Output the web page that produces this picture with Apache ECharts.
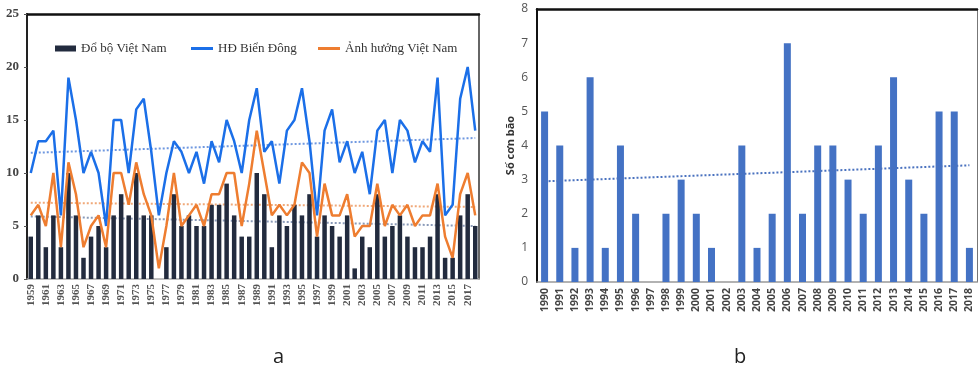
<!DOCTYPE html>
<html><head><meta charset="utf-8">
<script src="https://cdn.jsdelivr.net/npm/echarts@6/dist/echarts.min.js"></script>
<style>html,body{margin:0;padding:0;background:#fff}#c{width:979px;height:371px}</style>
</head><body><div id="c"></div>
<script>
const yearsA = ['1959','1960','1961','1962','1963','1964','1965','1966','1967','1968','1969','1970','1971','1972','1973','1974','1975','1976','1977','1978','1979','1980','1981','1982','1983','1984','1985','1986','1987','1988','1989','1990','1991','1992','1993','1994','1995','1996','1997','1998','1999','2000','2001','2002','2003','2004','2005','2006','2007','2008','2009','2010','2011','2012','2013','2014','2015','2016','2017','2018'];
const landfallVN = [4,6,3,6,3,10,6,2,4,5, 3,6,8,6,10,6,6,0,3,8, 5,6,5,5,7,7,9,6,4,4, 10,8,3,6,5,7,6,8,4,6, 5,4,6,1,4,3,8,4,5,6, 4,3,3,4,8,2,2,6,8,5];
const activeEastSea = [10,13,13,14,6,19,15,10,12,10, 5,15,15,10,16,17,12,6,10,13, 12,10,12,9,13,11,15,13,10,15, 18,12,13,9,14,15,18,13,6,14, 16,11,13,10,12,8,14,15,10,15, 14,11,13,12,19,6,7,17,20,14];
const affectVN = [6,7,5,10,3,11,8,3,5,6, 3,10,10,7,11,8,6,1,5,10, 5,6,7,5,8,8,10,10,5,9, 14,10,6,7,6,7,11,10,4,9, 6,6,8,4,5,5,9,5,7,6, 7,5,6,6,9,4,2,8,10,6];
const trendEastSeaEnds = [11.9, 13.3];
const trendAffectEnds = [7.2, 6.8];
const trendLandfallEnds = [5.9, 5.0];

const yearsB = ['1990','1991','1992','1993','1994','1995','1996','1997','1998','1999','2000','2001','2002','2003','2004','2005','2006','2007','2008','2009','2010','2011','2012','2013','2014','2015','2016','2017','2018'];
const stormsB = [5,4,1,6,1,4,2,0,2,3,2,1,0,4,1,2,7,2,4,4,3,2,4,6,3,2,5,5,1];
const trendBEnds = [2.95, 3.42];

const ticksA = ['0','5','10','15','20','25'];

function ends(n, e){ const a = new Array(n).fill(null); a[0]=e[0]; a[n-1]=e[1]; return a; }

const serif = 'Liberation Serif';
const sans = 'Open Sans';
const chart = echarts.init(document.getElementById('c'));
chart.setOption({
  animation:false,
  title:[
    {text:'a', left:268, top:342, textStyle:{fontFamily:sans, fontSize:20, fontWeight:'normal', color:'#222'}},
    {text:'b', left:729, top:342, textStyle:{fontFamily:sans, fontSize:20, fontWeight:'normal', color:'#222'}}
  ],
  legend:[
    {data:['Đổ bộ Việt Nam'], left:50, top:37, icon:'rect', itemWidth:21, itemHeight:6, itemGap:4,
     textStyle:{fontFamily:serif, fontSize:13, color:'#333'}},
    {data:['HĐ Biển Đông'], left:186, top:37, icon:'rect', itemWidth:22, itemHeight:3,
     textStyle:{fontFamily:serif, fontSize:13, color:'#333'}},
    {data:['Ảnh hưởng Việt Nam'], left:313, top:37, icon:'rect', itemWidth:22, itemHeight:3,
     textStyle:{fontFamily:serif, fontSize:13, color:'#333'}}
  ],
  grid:[
    {left:27, top:14, width:452, height:265},
    {left:537, top:9, width:440, height:273}
  ],
  xAxis:[
    {type:'category', gridIndex:0, data:yearsA, boundaryGap:true,
     axisLine:{onZero:false, lineStyle:{color:'#aaa', width:1.5}}, axisTick:{show:false},
     axisLabel:{interval:1, rotate:90, margin:5, fontFamily:serif, fontSize:11, fontWeight:'bold', color:'#555'}},
    {type:'category', gridIndex:0, data:yearsA, position:'top',
     axisLine:{onZero:false, lineStyle:{color:'#111', width:2.5}}, axisTick:{show:false}, axisLabel:{show:false}},
    {type:'category', gridIndex:1, data:yearsB, boundaryGap:true,
     axisLine:{onZero:false, lineStyle:{color:'#999', width:1.5}}, axisTick:{show:false},
     axisLabel:{interval:0, rotate:90, margin:6, fontFamily:sans, fontSize:10.5, fontWeight:'bold', color:'#444'}},
    {type:'category', gridIndex:1, data:yearsB, position:'top',
     axisLine:{onZero:false, lineStyle:{color:'#111', width:2.5}}, axisTick:{show:false}, axisLabel:{show:false}}
  ],
  yAxis:[
    {type:'value', gridIndex:0, min:0, max:25, interval:5,
     axisLine:{show:true, onZero:false, lineStyle:{color:'#222', width:2}}, axisTick:{show:true, length:3, lineStyle:{color:'#555'}},
     splitLine:{show:false},
     axisLabel:{margin:8, fontFamily:serif, fontSize:13, fontWeight:'bold', color:'#444',
       formatter:(v)=>ticksA[Math.round(v/5)]}},
    {type:'value', gridIndex:0, min:0, max:25, interval:5, position:'right',
     axisLine:{show:true, onZero:false, lineStyle:{color:'#333', width:1.5}}, axisTick:{show:false}, axisLabel:{show:false}, splitLine:{show:false}},
    {type:'value', gridIndex:1, min:0, max:8, interval:1,
     name:'Số cơn bão', nameLocation:'middle', nameGap:21, nameRotate:90,
     nameTextStyle:{fontFamily:sans, fontSize:11, fontWeight:'bold', color:'#333'},
     axisLine:{show:true, onZero:false, lineStyle:{color:'#111', width:2}}, axisTick:{show:false},
     splitLine:{show:false},
     axisLabel:{margin:9, fontFamily:sans, fontSize:12, color:'#555'}},
    {type:'value', gridIndex:1, min:0, max:8, interval:1, position:'right',
     axisLine:{show:true, onZero:false, lineStyle:{color:'#777', width:1}}, axisTick:{show:false}, axisLabel:{show:false}, splitLine:{show:false}}
  ],
  series:[
    {name:'Đổ bộ Việt Nam', type:'bar', xAxisIndex:0, yAxisIndex:0, data:landfallVN, barWidth:4.5,
     itemStyle:{color:'#222b3e'}},
    {name:'trend-landfall', type:'line', xAxisIndex:0, yAxisIndex:0, data:ends(yearsA.length, trendLandfallEnds),
     connectNulls:true, symbol:'none', lineStyle:{color:'#8a9ab8', width:2, type:'dotted'}, z:1},
    {name:'trend-affect', type:'line', xAxisIndex:0, yAxisIndex:0, data:ends(yearsA.length, trendAffectEnds),
     connectNulls:true, symbol:'none', lineStyle:{color:'#f0a878', width:2, type:'dotted'}, z:1},
    {name:'trend-eastsea', type:'line', xAxisIndex:0, yAxisIndex:0, data:ends(yearsA.length, trendEastSeaEnds),
     connectNulls:true, symbol:'none', lineStyle:{color:'#6f98e0', width:2, type:'dotted'}, z:1},
    {name:'HĐ Biển Đông', type:'line', xAxisIndex:0, yAxisIndex:0, data:activeEastSea, symbol:'none',
     itemStyle:{color:'#1b6fe8'}, lineStyle:{color:'#1b6fe8', width:2.5}, z:3},
    {name:'Ảnh hưởng Việt Nam', type:'line', xAxisIndex:0, yAxisIndex:0, data:affectVN, symbol:'none',
     itemStyle:{color:'#ee7d30'}, lineStyle:{color:'#ee7d30', width:2.5}, z:4},
    {name:'Số cơn bão', type:'bar', xAxisIndex:2, yAxisIndex:2, data:stormsB, barWidth:7,
     itemStyle:{color:'#4472c4'}},
    {name:'trend-b', type:'line', xAxisIndex:2, yAxisIndex:2, data:ends(yearsB.length, trendBEnds),
     connectNulls:true, symbol:'none', lineStyle:{color:'#4a72bf', width:2, type:'dotted'}, z:3}
  ]
});
</script></body></html>
